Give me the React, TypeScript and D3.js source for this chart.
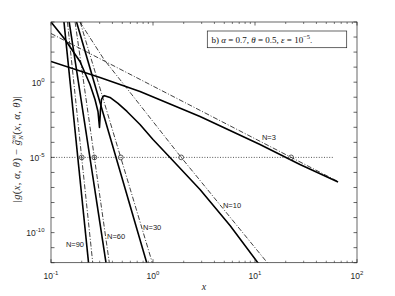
import React from "react";
import * as d3 from "d3";

const W = 395;
const H = 296;
const M = { left: 51, right: 357, top: 22, bottom: 262.7 };

const xDomain: [number, number] = [0.1, 100];
const yDomain: [number, number] = [1e-12, 1e4];
const xMajorTicks = [0.1, 1, 10, 100];
const xTickExp = ["-1", "0", "1", "2"];
const yLabelTicks = [1, 1e-5, 1e-10];
const yTickExp = ["0", "-5", "-10"];

// error curves (solid) and bounds (dash-dot)
const n3Err: [number, number][] = [[0.1, 23.7], [0.302, 2.05], [0.746, 0.241], [2.89, 5.26e-3], [11.2, 7.2e-5], [27.6, 3.4e-6], [65.2, 2.34e-7]];
const n3Bound: [number, number][] = [[0.1, 1722], [65.2, 2.48e-7]];
const n10Err: [number, number][] = [[0.1, 1e4], [0.1372, 687], [0.1924, 23.7], [0.2412, 0.703], [0.27, 0.0709], [0.2889, 0.0113], [0.2988, 9.8e-4], [0.3057, 0.01535], [0.3127, 0.0709], [0.327, 0.121], [0.3346, 0.1268], [0.3788, 0.0962], [0.4538, 0.0385], [0.556, 0.0113], [0.7455, 1.55e-3], [1.0, 1.56e-4], [1.468, 9.9e-6], [2.89, 7.4e-8], [5.69, 3.0e-10], [11.5, 5e-13]];
const n10Bound: [number, number][] = [[0.192, 1e4], [0.331, 32.2], [0.556, 0.381], [1.89, 1e-5], [13.2, 1e-12]];
const n30Err: [number, number][] = [[0.178, 1e4], [0.868, 1e-12]];
const n30Bound: [number, number][] = [[0.193, 1e4], [0.984, 1e-12]];
const n60Err: [number, number][] = [[0.1508, 1e4], [0.346, 1e-12]];
const n60Bound: [number, number][] = [[0.1723, 1e4], [0.373, 1e-12]];
const n90Err: [number, number][] = [[0.134, 1e4], [0.2333, 1e-12]];
const n90Bound: [number, number][] = [[0.145, 1e4], [0.2565, 1e-12]];

const tolerance = 1e-5;
const toleranceRange = [0.1, 60];
const crossX = [22.6, 1.89, 0.483, 0.266, 0.2];

const curveLabels = ["N=3", "N=10", "N=30", "N=60", "N=90"];
const curveLabelPos: [number, number][] = [[11.7, 1.34e-4], [4.85, 4.1e-9], [0.8, 1.4e-10], [0.354, 3.5e-11], [0.14, 1.04e-11]];

export default function App() {
  const x = d3.scaleLog().domain(xDomain).range([M.left, M.right]);
  const y = d3.scaleLog().domain(yDomain).range([M.bottom, M.top]);
  const line = d3.line<[number, number]>().x((d) => x(d[0])).y((d) => y(d[1]));

  const errs = [n3Err, n10Err, n30Err, n60Err, n90Err];
  const bounds = [n3Bound, n10Bound, n30Bound, n60Bound, n90Bound];

  const xMinor: number[] = [];
  for (let e = -1; e < 2; e++) for (let k = 2; k <= 9; k++) xMinor.push(k * Math.pow(10, e));
  const yTicks: number[] = [];
  for (let e = -12; e <= 4; e++) yTicks.push(Math.pow(10, e));

  const axisColor = "#262626";
  const sans = "'Liberation Sans', Arial, sans-serif";
  const serif = "'Liberation Serif', 'Times New Roman', serif";

  return (
    <div style={{ position: "absolute", left: 0, top: 0 }}>
      <svg width={W} height={H} style={{ display: "block", background: "#fff" }}>
        <defs>
          <clipPath id="plotClip">
            <rect x={M.left} y={M.top} width={M.right - M.left} height={M.bottom - M.top} />
          </clipPath>
        </defs>
        <rect x={0} y={0} width={W} height={H} fill="#fff" />

        <g clipPath="url(#plotClip)">
          <line x1={x(toleranceRange[0])} x2={x(toleranceRange[1])} y1={y(tolerance)} y2={y(tolerance)} stroke="#444" strokeWidth={0.9} strokeDasharray="1 1.6" />
          {bounds.map((b, i) => (
            <path key={"b" + i} d={line(b) || ""} fill="none" stroke="#111" strokeWidth={0.8} strokeDasharray="5 1.8 1 1.8" />
          ))}
          {errs.map((e, i) => (
            <path key={"e" + i} d={line(e) || ""} fill="none" stroke="#000" strokeWidth={1.6} strokeLinejoin="round" />
          ))}
          {crossX.map((cx, i) => (
            <circle key={"c" + i} cx={x(cx)} cy={y(tolerance)} r={2.4} fill="none" stroke="#333" strokeWidth={0.8} />
          ))}
        </g>

        {/* curve labels */}
        {curveLabels.map((t, i) => (
          <text key={"l" + i} x={x(curveLabelPos[i][0])} y={y(curveLabelPos[i][1])} fontFamily={sans} fontSize={7.5} fill="#222">{t}</text>
        ))}

        {/* axes box */}
        <rect x={M.left} y={M.top} width={M.right - M.left} height={M.bottom - M.top} fill="none" stroke={axisColor} strokeWidth={0.7} />

        {/* x ticks */}
        {xMajorTicks.map((t) => (
          <g key={"xm" + t}>
            <line x1={x(t)} x2={x(t)} y1={M.bottom} y2={M.bottom - 3.5} stroke={axisColor} strokeWidth={0.7} />
            <line x1={x(t)} x2={x(t)} y1={M.top} y2={M.top + 3.5} stroke={axisColor} strokeWidth={0.7} />
          </g>
        ))}
        {xMinor.map((t) => (
          <g key={"xn" + t}>
            <line x1={x(t)} x2={x(t)} y1={M.bottom} y2={M.bottom - 2} stroke={axisColor} strokeWidth={0.6} />
            <line x1={x(t)} x2={x(t)} y1={M.top} y2={M.top + 2} stroke={axisColor} strokeWidth={0.6} />
          </g>
        ))}
        {yTicks.map((t) => (
          <g key={"yt" + t}>
            <line x1={M.left} x2={M.left + 3.5} y1={y(t)} y2={y(t)} stroke={axisColor} strokeWidth={0.7} />
            <line x1={M.right} x2={M.right - 3.5} y1={y(t)} y2={y(t)} stroke={axisColor} strokeWidth={0.7} />
          </g>
        ))}

        {/* x tick labels */}
        {xMajorTicks.map((t, i) => (
          <text key={"xl" + t} x={x(t)} y={279} textAnchor="middle" fontFamily={sans} fontSize={8.5} fill={axisColor}>
            10<tspan dy={-4} fontSize={6}>{xTickExp[i]}</tspan>
          </text>
        ))}
        {/* y tick labels */}
        {yLabelTicks.map((t, i) => (
          <text key={"yl" + t} x={44.5} y={y(t) + 3.5} textAnchor="end" fontFamily={sans} fontSize={8.5} fill={axisColor}>
            10<tspan dy={-4} fontSize={6}>{yTickExp[i]}</tspan>
          </text>
        ))}

        {/* axis labels */}
        <text x={204} y={290} textAnchor="middle" fontFamily={serif} fontStyle="italic" fontSize={10} fill={axisColor}>x</text>
        <text transform={`translate(20,149) rotate(-90)`} textAnchor="middle" fontFamily={serif} fontSize={10.5} letterSpacing={0.4} fill={axisColor}>
          |<tspan fontStyle="italic">g</tspan>(<tspan fontStyle="italic">x</tspan>, <tspan fontStyle="italic">α</tspan>, <tspan fontStyle="italic">θ</tspan>) − <tspan fontStyle="italic">g̃</tspan><tspan fontSize={7} dy={-4}>∞</tspan><tspan fontSize={7} dx={-5.5} dy={6.5} fontStyle="italic">N</tspan><tspan dy={-2.5}>(</tspan><tspan fontStyle="italic">x</tspan>, <tspan fontStyle="italic">α</tspan>, <tspan fontStyle="italic">θ</tspan>)|
        </text>

        {/* annotation box */}
        <rect x={207.3} y={31} width={139.4} height={16.7} fill="#fff" stroke={axisColor} strokeWidth={0.7} />
        <text x={211.5} y={42.5} fontFamily={serif} fontSize={9} fill="#111">
          b) <tspan fontStyle="italic">α</tspan> = 0.7, <tspan fontStyle="italic">θ</tspan> = 0.5, <tspan fontStyle="italic">ε</tspan> = 10<tspan dy={-3.5} fontSize={6.5}>−5</tspan><tspan dy={3.5}>.</tspan>
        </text>
      </svg>
    </div>
  );
}
